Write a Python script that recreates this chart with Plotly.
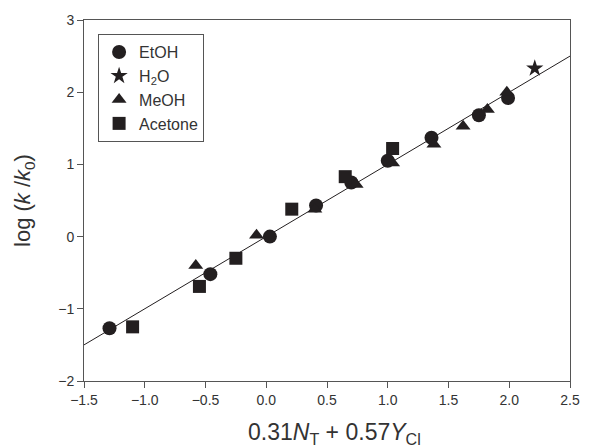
import plotly.graph_objects as go

# Data
etoh_x = [-1.29, -0.46, 0.03, 0.41, 0.70, 1.00, 1.36, 1.75, 1.99]
etoh_y = [-1.27, -0.52, 0.00, 0.43, 0.75, 1.05, 1.37, 1.68, 1.92]
h2o_x = [2.21]
h2o_y = [2.33]
meoh_x = [-0.58, -0.08, 0.40, 0.74, 1.04, 1.38, 1.62, 1.82, 1.98]
meoh_y = [-0.40, 0.02, 0.38, 0.72, 1.02, 1.28, 1.53, 1.76, 2.00]
acet_x = [-1.10, -0.55, -0.25, 0.21, 0.65, 1.04]
acet_y = [-1.25, -0.69, -0.30, 0.38, 0.83, 1.22]
fit_x = [-1.5, 2.5]
fit_slope = 1.0
fit_intercept = 0.0
fit_y = [fit_slope * v + fit_intercept for v in fit_x]

C = "#231f20"
fig = go.Figure()
fig.add_trace(go.Scatter(x=fit_x, y=fit_y, mode="lines", line=dict(color=C, width=1),
                         showlegend=False, hoverinfo="skip"))
fig.add_trace(go.Scatter(x=etoh_x, y=etoh_y, mode="markers", name="EtOH",
                         marker=dict(symbol="circle", size=14, color=C)))
fig.add_trace(go.Scatter(x=h2o_x, y=h2o_y, mode="markers", name="H<sub>2</sub>O",
                         marker=dict(symbol="star", size=13, color=C)))
fig.add_trace(go.Scatter(x=meoh_x, y=meoh_y, mode="markers", name="MeOH",
                         marker=dict(symbol="triangle-up", size=13, color=C)))
fig.add_trace(go.Scatter(x=acet_x, y=acet_y, mode="markers", name="Acetone",
                         marker=dict(symbol="square", size=13, color=C)))

font = "Liberation Sans, Arial, sans-serif"
axis_common = dict(showline=True, linecolor="#555555", linewidth=1, mirror=True,
                   ticks="outside", ticklen=6, tickcolor="#555555", showgrid=False,
                   zeroline=False, tickfont=dict(size=14, color="#333333", family=font))
fig.update_layout(
    width=592, height=448,
    margin=dict(l=84, r=15, t=19, b=67),
    paper_bgcolor="white", plot_bgcolor="white",
    font=dict(family=font, color="#333333"),
    xaxis=dict(range=[-1.5, 2.5], dtick=0.5, tick0=-1.5, tickformat=".1f",
               **axis_common),
    yaxis=dict(range=[-2, 3], dtick=1,
               title=dict(text="log (<i>k</i> /<i>k</i><sub>0</sub>)",
                          font=dict(size=22, family=font, color="#333333"), standoff=21),
               **axis_common),
    legend=dict(x=0.029, y=0.961, xanchor="left", yanchor="top",
                bordercolor="#555555", borderwidth=1, bgcolor="white",
                font=dict(size=16, family=font, color="#333333"), itemwidth=30),
)
fig.add_annotation(text="0.31<i>N</i><sub>T</sub> + 0.57<i>Y</i><sub>Cl</sub>",
                   xref="paper", yref="paper", x=0.515, y=-0.146,
                   xanchor="center", yanchor="middle", showarrow=False,
                   font=dict(size=23, family=font, color="#333333"))
fig.write_html("out.html", post_script="document.body.style.margin='0';",
               config={"displayModeBar": False})
